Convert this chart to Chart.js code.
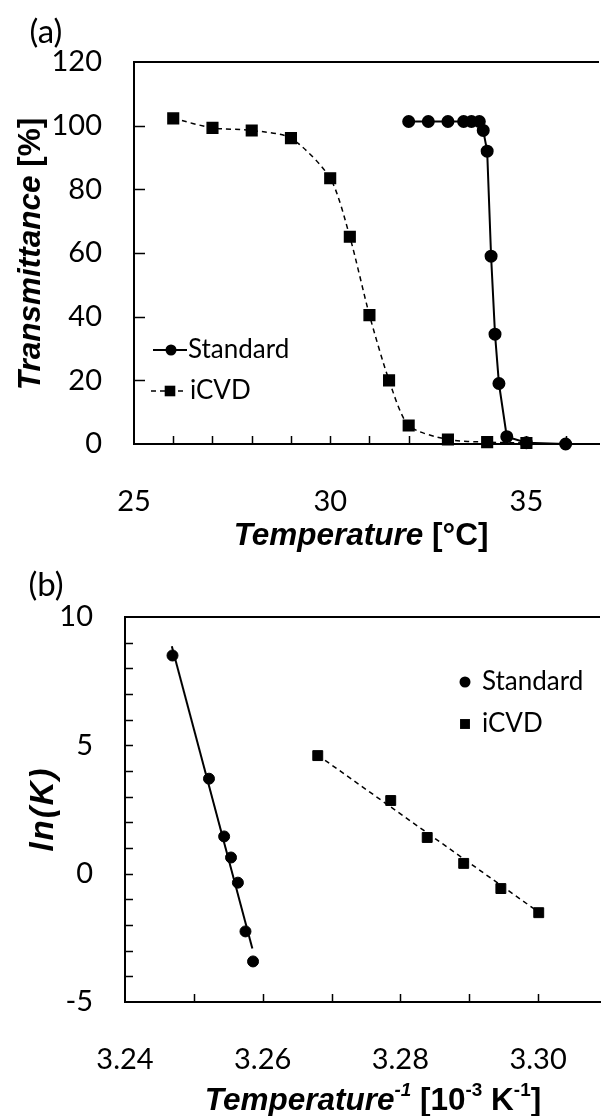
<!DOCTYPE html>
<html>
<head>
<meta charset="utf-8">
<script src="https://cdn.jsdelivr.net/npm/chart.js@4.4.0/dist/chart.umd.min.js"></script>
<style>
  body { margin: 0; background: #fff; width: 608px; height: 1116px; position: relative; overflow: hidden; font-family: Lato, sans-serif; }
  .panel { position: absolute; left: 0; width: 608px; }
  #wrapA { top: 0; height: 560px; }
  #wrapB { top: 560px; height: 556px; }
  .tag { position: absolute; font-family: Lato, sans-serif; font-size: 33px; color: #000; transform: translate(-50%, -50%); white-space: nowrap; }
  .title { position: absolute; font-family: "Liberation Sans", Arial, sans-serif; font-weight: bold; font-size: 31.5px; color: #000; white-space: nowrap; transform: translate(-50%, -50%); }
  .title.rot { transform: translate(-50%, -50%) rotate(-90deg); }
  .title i { font-style: italic; }
  .title sup { font-size: 0.6em; vertical-align: baseline; position: relative; top: -0.75em; }
</style>
</head>
<body>
<div id="wrapA" class="panel"><canvas id="chartA" width="608" height="560"></canvas></div>
<div id="wrapB" class="panel"><canvas id="chartB" width="608" height="556"></canvas></div>

<div class="tag" style="left:46px; top:30px;">(a)</div>
<div class="title rot" style="left:29px; top:254px;"><i>Transmittance</i> [%]</div>
<div class="title" style="left:361px; top:534px;"><i>Temperature</i> [°C]</div>

<div class="tag" style="left:46px; top:583px;">(b)</div>
<div class="title rot" style="left:42px; top:809px; font-size:33px; letter-spacing:2px;"><i>ln(K)</i></div>
<div class="title" style="left:373px; top:1099px;"><i>Temperature<sup>-1</sup></i> [10<sup>-3</sup> K<sup>-1</sup>]</div>

<script>
// ---- (a) transmittance vs temperature ----
const stdTempA  = [32, 32.5, 33, 33.4, 33.6, 33.8, 33.9, 34.0, 34.1, 34.2, 34.3, 34.5, 35, 36];
const stdTransA = [101.3, 101.3, 101.3, 101.3, 101.3, 101.3, 98.5, 92, 59, 34.5, 19, 2.3, 0.4, 0];
const cvdTempA  = [26, 27, 28, 29, 30, 30.5, 31, 31.5, 32, 33, 34, 35];
const cvdTransA = [102.3, 99.3, 98.5, 96.1, 83.5, 65.1, 40.5, 20, 5.8, 1.4, 0.6, 0.3];
const xLabelsA  = [25, 30, 35];
const yLabelsA  = [0, 20, 40, 60, 80, 100, 120];

// ---- (b) Arrhenius plot ----
const stdInvT = [3.2469, 3.2522, 3.2544, 3.2554, 3.2564, 3.2575, 3.2586];
const stdLnK  = [8.5, 3.7, 1.45, 0.63, -0.35, -2.25, -3.42];
const cvdInvT = [3.2680, 3.2786, 3.2839, 3.2892, 3.2946, 3.3001];
const cvdLnK  = [4.6, 2.85, 1.41, 0.40, -0.58, -1.52];
const stdFitX = [3.2468, 3.2585];
const stdFitY = [8.86, -2.92];
const cvdFitX = [3.2680, 3.3001];
const cvdFitY = [4.62, -1.50];
const xLabelsB = ["3.24", "3.26", "3.28", "3.30"];
const yLabelsB = [-5, 0, 5, 10];

const pts = (xs, ys) => xs.map((x, i) => ({ x: x, y: ys[i] }));
const tickFont = { family: "Lato", size: 29 };

// box top line, inward tick marks and the inset legend
const framePlugin = {
  id: "frame",
  afterDraw(chart, args, opts) {
    const { ctx, chartArea: a, scales } = chart;
    ctx.save();
    ctx.strokeStyle = "#000";
    ctx.lineWidth = 2;
    ctx.beginPath();
    ctx.moveTo(a.left, a.top);
    ctx.lineTo(a.right, a.top);
    ctx.stroke();

    ctx.lineWidth = 1.5;
    ctx.beginPath();
    scales.x.ticks.forEach(t => {
      const px = Math.round(scales.x.getPixelForValue(t.value)) + 0.5;
      if (px <= a.left + 2) return;
      ctx.moveTo(px, a.bottom);
      ctx.lineTo(px, a.bottom - opts.xLen);
    });
    scales.y.ticks.forEach(t => {
      const py = Math.round(scales.y.getPixelForValue(t.value)) + 0.5;
      if (py >= a.bottom - 2 || py <= a.top + 2) return;
      ctx.moveTo(a.left, py);
      ctx.lineTo(a.left + opts.yLen, py);
    });
    ctx.stroke();

    // legend
    ctx.font = "26px Lato";
    ctx.textBaseline = "middle";
    ctx.fillStyle = "#000";
    opts.legend.forEach(item => {
      const ds = chart.data.datasets[item.ds];
      if (item.line) {
        ctx.lineWidth = ds.borderWidth;
        ctx.setLineDash(ds.borderDash || []);
        ctx.beginPath();
        ctx.moveTo(item.x0, item.y);
        ctx.lineTo(item.x1, item.y);
        ctx.stroke();
        ctx.setLineDash([]);
      }
      const r = ds.pointRadius;
      ctx.beginPath();
      if (ds.pointStyle === "rect") {
        const s = Math.SQRT1_2 * r;
        ctx.rect(item.mx - s, item.y - s, 2 * s, 2 * s);
      } else {
        ctx.arc(item.mx, item.y, r, 0, Math.PI * 2);
      }
      ctx.fill();
      ctx.fillText(ds.label, item.tx, item.y);
    });
    ctx.restore();
  }
};

new Chart(document.getElementById("chartA"), {
  type: "scatter",
  data: {
    datasets: [
      {
        label: "Standard",
        data: pts(stdTempA, stdTransA),
        showLine: true,
        borderColor: "#000",
        backgroundColor: "#000",
        borderWidth: 2,
        pointStyle: "circle",
        pointRadius: 5.5,
        pointHoverRadius: 5.5,
        clip: false
      },
      {
        label: "iCVD",
        data: pts(cvdTempA, cvdTransA),
        showLine: true,
        borderColor: "#000",
        backgroundColor: "#000",
        borderWidth: 1.5,
        borderDash: [5, 4],
        tension: 0.25,
        pointStyle: "rect",
        pointRadius: 7.5,
        pointHoverRadius: 7.5,
        clip: false
      }
    ]
  },
  options: {
    responsive: false,
    animation: false,
    events: [],
    layout: { padding: { top: 62, right: 0, bottom: 0, left: 0 } },
    plugins: {
      legend: { display: false },
      tooltip: { enabled: false },
      frame: {
        xLen: 8, yLen: 11,
        legend: [
          { ds: 0, line: true, x0: 153, x1: 187, mx: 171, tx: 188, y: 350 },
          { ds: 1, line: true, x0: 151, x1: 187, mx: 170, tx: 190, y: 391 }
        ]
      }
    },
    scales: {
      x: {
        type: "linear",
        min: 25,
        max: 36.85,
        grid: { display: false, drawTicks: false },
        border: { display: true, color: "#000", width: 2 },
        ticks: {
          stepSize: 1,
          autoSkip: false,
          includeBounds: false,
          maxRotation: 0,
          padding: 40,
          color: "#000",
          font: tickFont,
          callback: v => (xLabelsA.includes(v) ? String(v) : "")
        },
        afterFit: s => { s.height = 116; }
      },
      y: {
        type: "linear",
        min: 0,
        max: 120,
        grid: { display: false, drawTicks: false },
        border: { display: true, color: "#000", width: 2 },
        ticks: {
          stepSize: 20,
          padding: 32,
          color: "#000",
          font: tickFont,
          callback: v => (yLabelsA.includes(v) ? String(v) : "")
        },
        afterFit: s => { s.width = 134; }
      }
    }
  },
  plugins: [framePlugin]
});

new Chart(document.getElementById("chartB"), {
  type: "scatter",
  data: {
    datasets: [
      {
        label: "Standard",
        data: pts(stdInvT, stdLnK),
        showLine: false,
        backgroundColor: "#000",
        borderColor: "#000",
        pointStyle: "circle",
        pointRadius: 5.5,
        pointHoverRadius: 5.5,
        clip: false
      },
      {
        label: "iCVD",
        data: pts(cvdInvT, cvdLnK),
        showLine: false,
        backgroundColor: "#000",
        borderColor: "#000",
        pointStyle: "rect",
        pointRadius: 7,
        pointHoverRadius: 7,
        clip: false
      },
      {
        label: "Standard fit",
        data: pts(stdFitX, stdFitY),
        showLine: true,
        borderColor: "#000",
        borderWidth: 2,
        pointRadius: 0
      },
      {
        label: "iCVD fit",
        data: pts(cvdFitX, cvdFitY),
        showLine: true,
        borderColor: "#000",
        borderWidth: 1.5,
        borderDash: [5, 4],
        pointRadius: 0
      }
    ]
  },
  options: {
    responsive: false,
    animation: false,
    events: [],
    layout: { padding: { top: 57, right: 0, bottom: 0, left: 0 } },
    plugins: {
      legend: { display: false },
      tooltip: { enabled: false },
      frame: {
        xLen: 8, yLen: 8,
        legend: [
          { ds: 0, line: false, mx: 465, tx: 482, y: 682 - 560 },
          { ds: 1, line: false, mx: 465, tx: 482, y: 724 - 560 }
        ]
      }
    },
    scales: {
      x: {
        type: "linear",
        min: 3.24,
        max: 3.309,
        grid: { display: false, drawTicks: false },
        border: { display: true, color: "#000", width: 2 },
        ticks: {
          stepSize: 0.01,
          autoSkip: false,
          includeBounds: false,
          maxRotation: 0,
          padding: 40,
          color: "#000",
          font: tickFont,
          callback: v => {
            const s = v.toFixed(2);
            return xLabelsB.includes(s) ? s : "";
          }
        },
        afterFit: s => { s.height = 114; }
      },
      y: {
        type: "linear",
        min: -5,
        max: 10,
        grid: { display: false, drawTicks: false },
        border: { display: true, color: "#000", width: 2 },
        ticks: {
          stepSize: 1,
          autoSkip: false,
          padding: 32,
          color: "#000",
          font: tickFont,
          callback: v => (yLabelsB.includes(v) ? String(v) : "")
        },
        afterFit: s => { s.width = 125; }
      }
    }
  },
  plugins: [framePlugin]
});
</script>
</body>
</html>
